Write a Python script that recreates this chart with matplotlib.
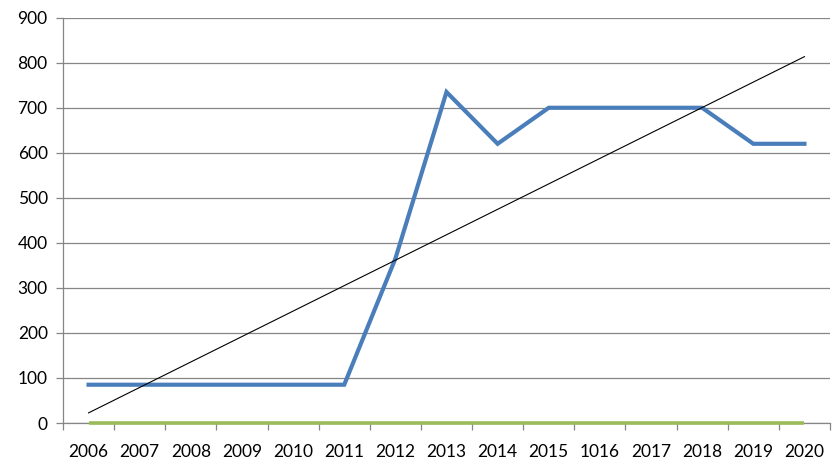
import numpy as np
import matplotlib
matplotlib.use("Agg")
import matplotlib.pyplot as plt

# category labels as they appear on the chart (note the "1016" label)
years = ['2006', '2007', '2008', '2009', '2010', '2011', '2012', '2013',
         '2014', '2015', '1016', '2017', '2018', '2019', '2020']
blue_vals = [85, 85, 85, 85, 85, 85, 365, 735, 620, 700, 700, 700, 700, 620, 620]
green_vals = [0] * 15

plt.rcParams['font.family'] = ['Lato', 'DejaVu Sans']

fig = plt.figure(figsize=(8.33, 4.73), dpi=100)
ax = fig.add_axes([63 / 833, 1 - 423 / 473, (830 - 63) / 833, (423 - 17.7) / 473])

x = np.arange(len(years))
ax.plot(x, green_vals, color='#9BBB59', lw=2.6, solid_capstyle='butt', zorder=6, clip_on=False)
ax.plot(x, blue_vals, color='#4A7EBB', lw=3.0, solid_joinstyle='miter', zorder=4)

# linear trendline of the blue series
slope, icpt = np.polyfit(x, blue_vals, 1)
ax.plot(x, slope * x + icpt, color='black', lw=0.8, zorder=5)

ax.set_xlim(-0.5, len(years) - 0.5)
ax.set_ylim(0, 900)
ax.set_yticks(range(0, 901, 100))
ax.grid(axis='y', color='#868686', lw=0.9)
ax.set_axisbelow(True)

ax.set_xticks(x)
ax.set_xticklabels(years)
ax.set_xticks(np.arange(-0.5, len(years), 1), minor=True)
ax.tick_params(axis='x', which='major', length=0, pad=15, labelsize=12.5)
ax.tick_params(axis='x', which='minor', length=5, color='#868686', width=0.9)
ax.tick_params(axis='y', length=5, color='#868686', width=0.9, pad=6, labelsize=12.5)

for s in ['top', 'right']:
    ax.spines[s].set_visible(False)
for s in ['left', 'bottom']:
    ax.spines[s].set_color('#868686')
    ax.spines[s].set_linewidth(0.9)

fig.savefig('out.png', dpi=100)
